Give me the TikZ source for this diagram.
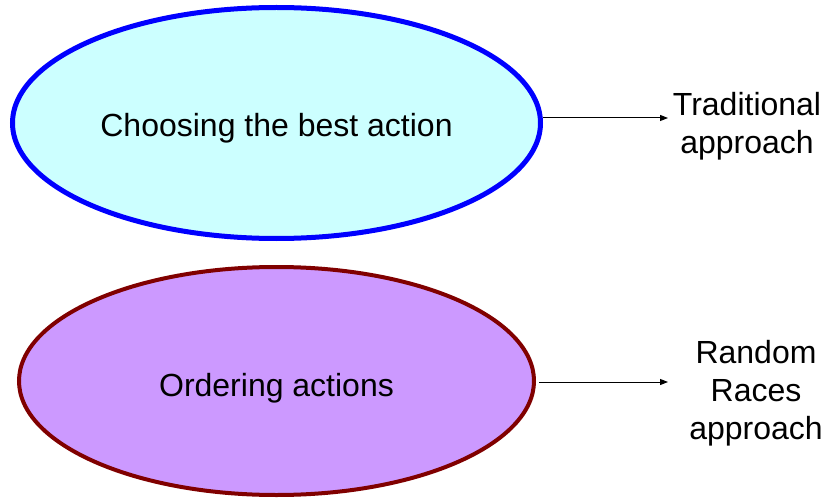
\documentclass[tikz,border=0pt]{standalone}
\usepackage{fontspec}
\setmainfont{Liberation Sans}
\usetikzlibrary{shapes.geometric,arrows.meta}
\definecolor{ebluefill}{HTML}{CCFFFF}
\definecolor{eblue}{HTML}{0000FF}
\definecolor{eredline}{HTML}{800000}
\definecolor{epurple}{HTML}{CC99FF}
\begin{document}
\begin{tikzpicture}[x=1pt,y=-1pt,
  oval/.style={ellipse,inner sep=0pt,font=\fontsize{32}{38}\selectfont},
  lbl/.style={align=center,inner sep=0pt,font=\fontsize{32}{38}\selectfont},
  conn/.style={line width=1pt,-{Triangle[length=8pt,width=6pt]}}]
\useasboundingbox (0,0) rectangle (825,500);
\node[oval,draw=eblue,fill=ebluefill,line width=5pt,minimum width=528pt,minimum height=231pt] (e1) at (276.5,123) {\raisebox{-14pt}[0pt][0pt]{Choosing the best action}};
\node[oval,draw=eredline,fill=epurple,line width=4pt,minimum width=515pt,minimum height=228pt] (e2) at (276.5,381) {\raisebox{-15pt}[0pt][0pt]{Ordering actions}};
\node[lbl] (t1) at (747,126) {Traditional\\approach};
\node[lbl] (t2) at (756,393) {Random\\Races\\approach};
\coordinate (a1) at (668,118);
\coordinate (a2) at (668,382);
\draw[conn] (e1.east |- a1) -- (a1);
\draw[conn] (e2.east |- a2) ++(3,0) -- (a2);
\end{tikzpicture}
\end{document}
